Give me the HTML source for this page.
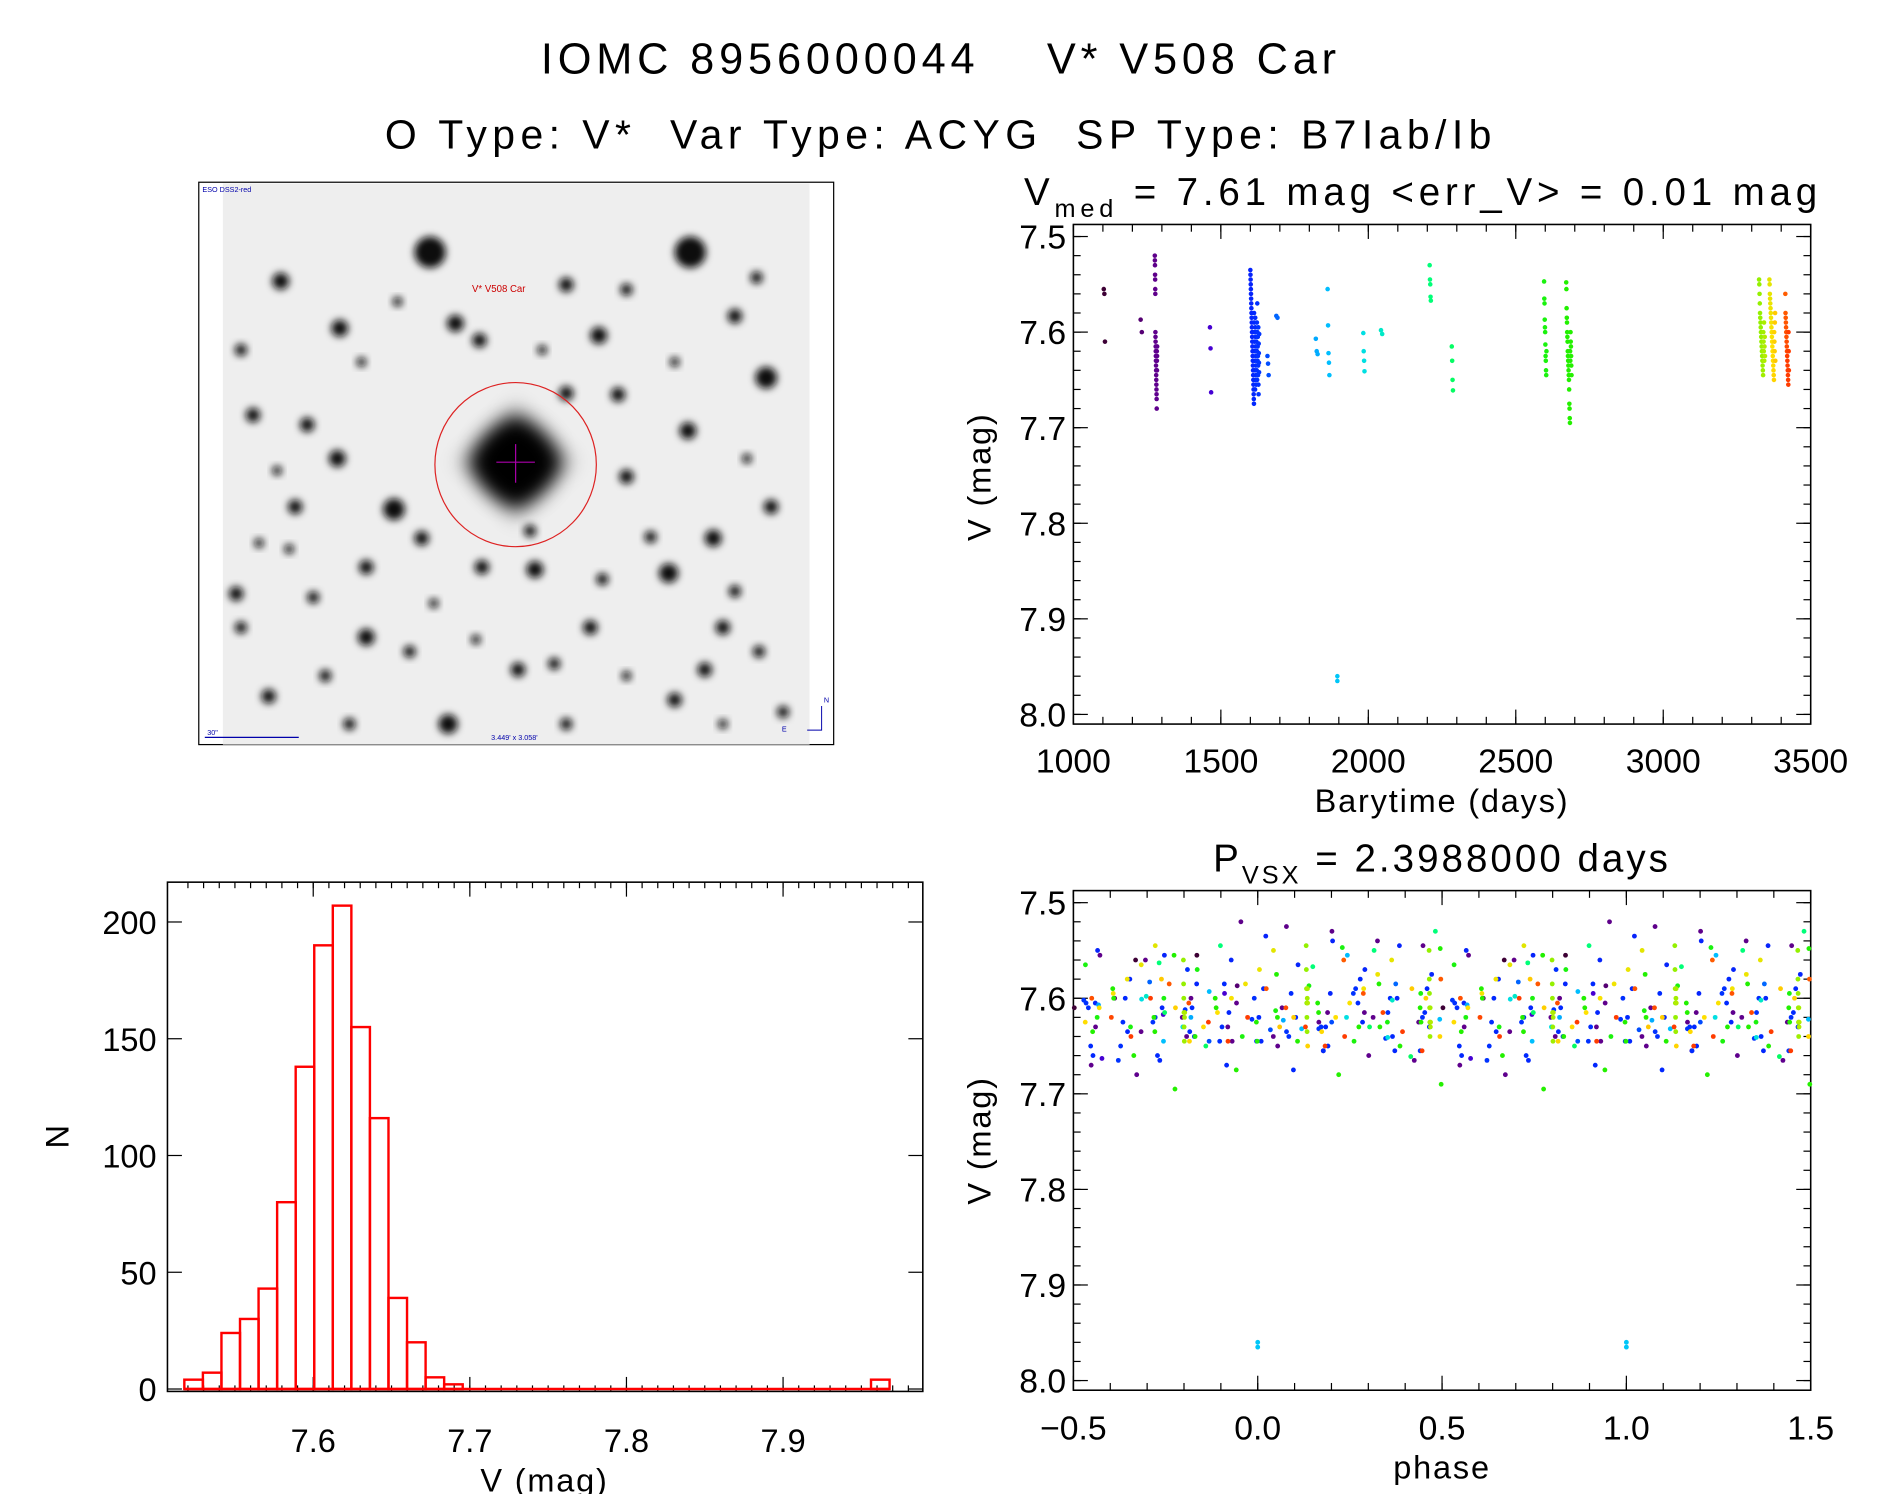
<!DOCTYPE html>
<html><head><meta charset="utf-8"><style>
html,body{margin:0;padding:0;background:#fff}
svg{display:block}
text{font-family:"Liberation Sans",sans-serif;fill:#000}
</style></head><body>
<svg id="fig" width="1889" height="1494" viewBox="0 0 1568 1238" preserveAspectRatio="none" xmlns="http://www.w3.org/2000/svg">
<defs><filter id="bl" x="-50%" y="-50%" width="200%" height="200%"><feGaussianBlur stdDeviation="3"/></filter>
<filter id="bl2" x="-50%" y="-50%" width="200%" height="200%"><feGaussianBlur stdDeviation="9"/></filter>
<clipPath id="imgclip"><rect x="185" y="152" width="487" height="465"/></clipPath></defs>
<text x="781" y="61" font-size="36" text-anchor="middle" letter-spacing="4" xml:space="preserve">IOMC 8956000044    V* V508 Car</text>
<text x="781" y="123" font-size="34" text-anchor="middle" letter-spacing="4.5" xml:space="preserve">O Type: V*  Var Type: ACYG  SP Type: B7Iab/Ib</text>
<g id="sky"></g>
<g id="lc"></g>
<g id="hist"></g>
<g id="ph"></g>
</svg>
<script>
// ---- light curve data (groups of observations) ----
const groupTimes = [1105,1230,1280,1465,1615,1660,1690,1825,1865,1895,1985,2045,2210,2285,2600,2680,3335,3370,3420];
const groupSpread = [4,4,8,4,30,4,4,6,6,0,4,4,4,4,8,18,20,20,12];
const groupMags = [
 [7.555,7.56,7.61],
 [7.587,7.60],
 [7.52,7.525,7.53,7.54,7.545,7.555,7.56,7.60,7.605,7.61,7.615,7.62,7.625,7.63,7.635,7.64,7.645,7.65,7.655,7.66,7.665,7.67,7.68,7.62,7.63,7.64,7.625,7.615],
 [7.595,7.617,7.663],
 [7.535,7.54,7.545,7.55,7.555,7.56,7.565,7.57,7.575,7.58,7.585,7.59,7.595,7.60,7.605,7.61,7.615,7.62,7.625,7.63,7.635,7.64,7.645,7.65,7.655,7.66,7.665,7.67,7.675,7.58,7.59,7.60,7.61,7.62,7.63,7.64,7.65,7.66,7.585,7.595,7.605,7.615,7.625,7.635,7.645,7.655,7.60,7.61,7.62,7.63,7.64,7.59,7.62,7.65,7.57,7.6,7.63,7.615,7.605,7.625,7.645,7.635,7.595,7.655,7.665,7.612,7.622,7.632,7.642,7.602],
 [7.625,7.633,7.645],
 [7.583,7.585],
 [7.607,7.62,7.623],
 [7.555,7.593,7.622,7.632,7.645],
 [7.96,7.965],
 [7.601,7.62,7.63,7.641],
 [7.598,7.602],
 [7.53,7.545,7.55,7.563,7.567],
 [7.615,7.63,7.65,7.661],
 [7.547,7.565,7.57,7.587,7.595,7.60,7.613,7.625,7.63,7.64,7.645,7.62],
 [7.548,7.555,7.575,7.585,7.59,7.60,7.605,7.61,7.62,7.625,7.63,7.635,7.64,7.645,7.65,7.66,7.675,7.68,7.69,7.695,7.62,7.63,7.60,7.61,7.615,7.625,7.635,7.645],
 [7.545,7.55,7.56,7.57,7.58,7.585,7.59,7.595,7.60,7.605,7.61,7.615,7.62,7.625,7.63,7.635,7.64,7.645,7.60,7.61,7.62,7.59,7.63,7.615,7.605,7.625],
 [7.545,7.55,7.56,7.565,7.57,7.575,7.58,7.585,7.59,7.595,7.60,7.605,7.61,7.615,7.62,7.625,7.63,7.635,7.64,7.645,7.65,7.60,7.61,7.62,7.59,7.58,7.63],
 [7.56,7.58,7.585,7.59,7.595,7.60,7.605,7.61,7.615,7.62,7.625,7.63,7.635,7.64,7.645,7.65,7.655,7.60,7.62,7.64]
];
const period = 2.3988;
const epoch = 1895;
const lcXTicks = [1000,1500,2000,2500,3000,3500];
const magTicks = ["7.5","7.6","7.7","7.8","7.9","8.0"];
const phaseTicks = ["\u22120.5","0.0","0.5","1.0","1.5"];
// ---- histogram data ----
const histStart = 7.5177;
const histWidth = 0.01185;
const histCounts = [4,7,24,30,43,80,138,190,207,155,116,39,20,5,2,0,0,0,0,0,0,0,0,0,0,0,0,0,0,0,0,0,0,0,0,0,0,4];
const histXTicks = ["7.6","7.7","7.8","7.9"];
const histYTicks = [0,50,100,150,200];

const NS="http://www.w3.org/2000/svg";
function el(tag,attrs,parent){const e=document.createElementNS(NS,tag);for(const k in attrs)e.setAttribute(k,attrs[k]);parent.appendChild(e);return e;}
function txt(parent,x,y,s,size,anchor,extra){const t=el('text',Object.assign({x:x,y:y,'font-size':size,'text-anchor':anchor||'middle'},extra||{}),parent);t.textContent=s;return t;}

const cStops=[[1100,[60,0,50]],[1280,[95,0,140]],[1465,[70,0,210]],[1615,[0,40,255]],[1700,[0,110,255]],[1865,[0,190,255]],[1990,[0,225,225]],[2210,[0,255,120]],[2650,[30,240,0]],[3335,[150,240,0]],[3370,[255,225,0]],[3395,[255,160,0]],[3420,[255,70,0]]];
function tcol(t){for(let i=0;i<cStops.length-1;i++){const a=cStops[i],b=cStops[i+1];if(t<=b[0]){const f=Math.max(0,(t-a[0])/(b[0]-a[0]));const c=a[1].map((v,j)=>Math.round(v+(b[1][j]-v)*f));return`rgb(${c})`;}}return'rgb(255,60,0)';}

function frame(g,x0,y0,x1,y1,name){const r=el('rect',{x:x0,y:y0,width:x1-x0,height:y1-y0,fill:'none',stroke:'#000','stroke-width':1.3},g);}
function ticksX(g,sx,vals,y0,y1,len){vals.forEach(v=>{const x=sx(v);el('line',{x1:x,x2:x,y1:y1,y2:y1-len,stroke:'#000','stroke-width':1},g);el('line',{x1:x,x2:x,y1:y0,y2:y0+len,stroke:'#000','stroke-width':1},g);});}
function ticksY(g,sy,vals,x0,x1,len){vals.forEach(v=>{const y=sy(v);el('line',{x1:x0,x2:x0+len,y1:y,y2:y,stroke:'#000','stroke-width':1},g);el('line',{x1:x1,x2:x1-len,y1:y,y2:y,stroke:'#000','stroke-width':1},g);});}
function range(a,b,s){const r=[];for(let v=a;v<=b+1e-9;v+=s)r.push(+v.toFixed(4));return r;}

// ---------- sky image ----------
(function(){
 const g=document.getElementById('sky');
 el('rect',{x:165,y:151,width:527,height:466,fill:'#fff',stroke:'#000','stroke-width':1},g);
 el('rect',{x:185,y:152,width:487,height:465,fill:'#eeeeee'},g);
 const cg=el('g',{'clip-path':'url(#imgclip)'},g);
 const stars=[[357,209,13],[573,209,13],[233,233,7],[282,272,7],[378,268,7],[497,278,7],[610,262,6],[636,313,9],[210,344,6],[255,352,6],[327,422,9],[304,528,7],[555,475,8],[571,357,7],[592,446,7],[304,470,6],[444,472,7],[513,327,6],[470,326,6],[350,446,6],[196,492,6],[223,577,6],[372,600,8],[560,580,6],[430,555,6],[600,520,6],[460,550,5],[630,540,5],[245,420,6],[400,470,6],[520,395,6],[640,420,6],[200,520,5],[270,560,5],[340,540,5],[490,520,6],[280,380,7],[398,282,6],[470,236,6],[520,240,5],[628,230,5],[200,290,5],[440,440,5],[500,480,5],[585,555,6],[260,495,5],[240,455,4],[610,490,5],[395,530,4],[540,445,5],[300,300,4],[330,250,4],[450,290,4],[560,300,4],[620,380,4],[230,390,4],[290,600,5],[470,600,5],[520,560,4],[650,590,5],[215,450,4],[360,500,4],[600,600,4]];
 stars.forEach(s=>{const c=el('circle',{cx:s[0],cy:s[1],r:s[2],fill:'#111',filter:'url(#bl)'},cg);});
 el('line',{x1:185,x2:672,y1:383,y2:383,stroke:'#444','stroke-width':3,filter:'url(#bl)'},cg);
 el('line',{x1:428,x2:428,y1:152,y2:617,stroke:'#555','stroke-width':3,filter:'url(#bl)'},cg);
 el('rect',{x:398,y:353,width:60,height:60,fill:'#000',transform:'rotate(45 428 383)',filter:'url(#bl2)'},cg);
 el('circle',{cx:428,cy:383,r:30,fill:'#000',filter:'url(#bl2)'},cg);
 const rc=el('ellipse',{cx:428,cy:385,rx:67,ry:68,fill:'none',stroke:'#d22','stroke-width':1},g);
 
 el('line',{x1:428,x2:428,y1:368,y2:400,stroke:'#a0a','stroke-width':1},g);
 el('line',{x1:412,x2:444,y1:383,y2:383,stroke:'#a0a','stroke-width':1},g);
 txt(g,414,242,'V* V508 Car',8,'middle',{style:'fill:#c00'});
 txt(g,168,159,'ESO DSS2-red',6,'start',{style:'fill:#00a'});
 txt(g,427,613,"3.449' x 3.058'",6,'middle',{style:'fill:#00a'});
 txt(g,172,609,'30"',6,'start',{style:'fill:#00a'});
 el('line',{x1:170,x2:248,y1:611,y2:611,stroke:'#00a','stroke-width':1},g);
 el('path',{d:'M670 605 H682 V585',fill:'none',stroke:'#00a','stroke-width':0.8},g);
 txt(g,686,582,'N',6,'middle',{style:'fill:#00a'});txt(g,651,606,'E',6,'middle',{style:'fill:#00a'});
})();

// ---------- light curve ----------
const allT=[],allV=[];
groupTimes.forEach((t0,i)=>{const m=groupMags[i],n=m.length;m.forEach((v,j)=>{allT.push(t0-groupSpread[i]/2+(n>1?groupSpread[i]*j/(n-1):0));allV.push(v);});});
(function(){
 const g=document.getElementById('lc');
 const X0=891,X1=1503,Y0=186,Y1=600;
 const sx=t=>X0+(t-1000)/2500*(X1-X0);
 const sy=v=>196+(v-7.5)/0.5*(592-196);
 frame(g,X0,Y0,X1,Y1,'light-curve-frame');
 ticksX(g,sx,range(1000,3500,100),Y0,Y1,6);ticksX(g,sx,lcXTicks,Y0,Y1,12);
 ticksY(g,sy,range(7.5,8.0,0.02),X0,X1,6);ticksY(g,sy,magTicks.map(Number),X0,X1,12);
 lcXTicks.forEach(v=>{const t=txt(g,sx(v),640,String(v),28);});
 magTicks.forEach(v=>{const t=txt(g,885,sy(+v)+10,v,28,'end');});
 const xl=txt(g,1197,673,'Barytime (days)',27,'middle',{'letter-spacing':1.5});
 const yl=txt(g,0,0,'V (mag)',27,'middle',{transform:'translate(822 395) rotate(-90)','letter-spacing':1.5});
 const ti=el('text',{x:850,y:170,'font-size':32,'letter-spacing':4,'xml:space':'preserve'},g);ti.innerHTML='V<tspan font-size="21" dy="10">med</tspan><tspan dy="-10"> = 7.61 mag &lt;err_V&gt; = 0.01 mag</tspan>';
 
 allT.forEach((t,i)=>{const c=el('circle',{cx:sx(t),cy:sy(allV[i]),r:1.9,fill:tcol(t)},g);});
})();

// ---------- histogram ----------
(function(){
 const g=document.getElementById('hist');
 const X0=139,X1=766,Y0=731,Y1=1153;
 const sx=v=>260+(v-7.6)/0.1*130;
 const sy=n=>1151-n/200*(1151-764);
 frame(g,X0,Y0,X1,Y1,'histogram-frame');
 ticksX(g,sx,range(7.52,7.98,0.01),Y0,Y1,5);ticksX(g,sx,histXTicks.map(Number),Y0,Y1,12);
 ticksY(g,sy,histYTicks,X0,X1,12);
 histXTicks.forEach(v=>{const t=txt(g,sx(+v),1203,v,27);});
 histYTicks.forEach(v=>{const t=txt(g,130,sy(v)+10,String(v),27,'end');});
 const xl=txt(g,452,1236,'V (mag)',27,'middle',{'letter-spacing':1.5});
 const yl=txt(g,0,0,'N',27,'middle',{transform:'translate(57 942) rotate(-90)'});
 el('line',{x1:sx(histStart),x2:sx(histStart+histWidth*histCounts.length),y1:sy(0),y2:sy(0),stroke:'#f00','stroke-width':2},g);
 histCounts.forEach((n,i)=>{if(!n)return;const a=sx(histStart+i*histWidth),b=sx(histStart+(i+1)*histWidth);
  const r=el('rect',{x:a,y:sy(n),width:b-a,height:sy(0)-sy(n),fill:'none',stroke:'#f00','stroke-width':2},g);
  });
})();

// ---------- phase plot ----------
(function(){
 const g=document.getElementById('ph');
 const X0=891,X1=1503,Y0=738,Y1=1152;
 const sx=p=>X0+(p+0.5)/2*(X1-X0);
 const sy=v=>748+(v-7.5)/0.5*(1144-748);
 frame(g,X0,Y0,X1,Y1,'phase-frame');
 ticksX(g,sx,range(-0.5,1.5,0.1),Y0,Y1,6);ticksX(g,sx,[-0.5,0,0.5,1,1.5],Y0,Y1,12);
 ticksY(g,sy,range(7.5,8.0,0.02),X0,X1,6);ticksY(g,sy,magTicks.map(Number),X0,X1,12);
 phaseTicks.forEach((s,i)=>{const t=txt(g,sx(-0.5+i*0.5),1193,s,28);});
 magTicks.forEach(v=>{const t=txt(g,885,sy(+v)+10,v,28,'end');});
 const xl=txt(g,1197,1225,'phase',27,'middle',{'letter-spacing':1.5});
 const yl=txt(g,0,0,'V (mag)',27,'middle',{transform:'translate(822 945) rotate(-90)','letter-spacing':1.5});
 const ti=el('text',{x:1197,y:722,'font-size':32,'text-anchor':'middle','letter-spacing':2.5,'xml:space':'preserve'},g);ti.innerHTML='P<tspan font-size="21" dy="10">VSX</tspan><tspan dy="-10"> = 2.3988000 days</tspan>';
 
 allT.forEach((t,i)=>{const p=(((t-epoch)/period)%1+1)%1;[p-1,p,p+1].forEach(q=>{if(q<-0.5||q>1.5)return;
  const c=el('circle',{cx:sx(q),cy:sy(allV[i]),r:2,fill:tcol(t)},g);});});
})();
</script>
</body></html>
